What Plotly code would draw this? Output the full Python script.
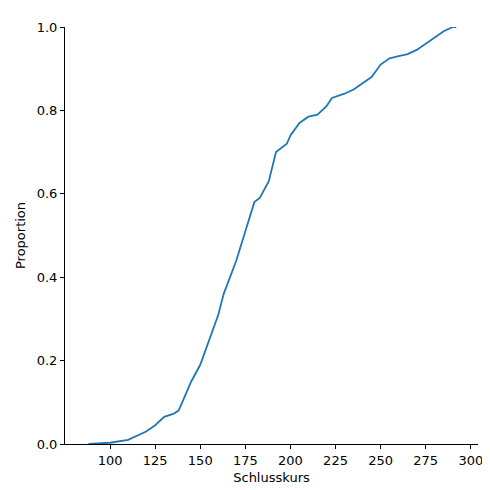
import plotly.graph_objects as go

price = [88, 100, 110, 120, 125, 130, 135, 138, 140, 145, 150, 155, 160, 163, 170, 175, 180, 183, 188, 192, 198, 200, 205, 210, 215, 220, 223, 230, 235, 240, 245, 250, 255, 260, 265, 270, 275, 280, 285, 290, 292]
proportion = [0.0, 0.003, 0.01, 0.03, 0.045, 0.065, 0.072, 0.08, 0.1, 0.15, 0.19, 0.25, 0.31, 0.36, 0.44, 0.51, 0.58, 0.59, 0.63, 0.70, 0.72, 0.74, 0.77, 0.785, 0.79, 0.81, 0.83, 0.84, 0.85, 0.865, 0.88, 0.91, 0.925, 0.93, 0.935, 0.945, 0.96, 0.975, 0.99, 1.0, 1.0]
xticks = [100, 125, 150, 175, 200, 225, 250, 275, 300]
yticks = [0.0, 0.2, 0.4, 0.6, 0.8, 1.0]

fig = go.Figure(go.Scatter(x=price, y=proportion, mode="lines",
                           line=dict(color="#1f77b4", width=1.8)))
ax = dict(showgrid=False, zeroline=False, showline=True, linecolor="black", linewidth=1,
          ticks="outside", ticklen=4, tickcolor="black", tickfont=dict(size=13, color="black"))
fig.update_layout(
    width=490, height=490, plot_bgcolor="white", paper_bgcolor="white",
    margin=dict(l=52, r=20, t=14, b=54), showlegend=False,
    font=dict(family="DejaVu Sans", color="black"),
    xaxis=dict(ax, range=[75, 304], tickvals=xticks, title=dict(text="Schlusskurs", font=dict(size=13), standoff=6)),
    yaxis=dict(ax, range=[0, 1], tickvals=yticks, tickformat=".1f", title=dict(text="Proportion", font=dict(size=13), standoff=8)),
)
fig.write_html("out.html")
